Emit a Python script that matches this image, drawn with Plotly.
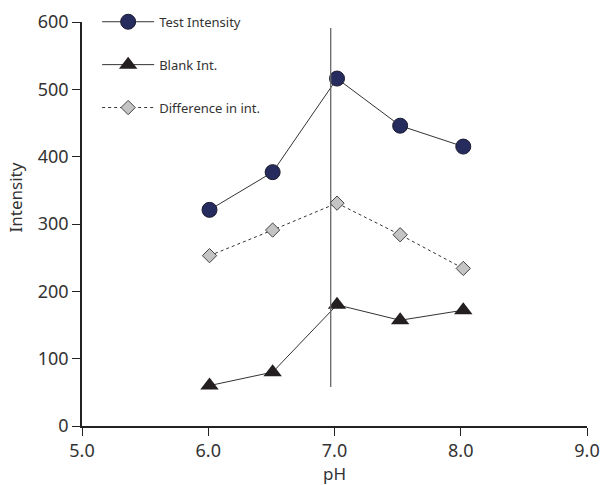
import plotly.graph_objects as go

ph = [6.01, 6.51, 7.02, 7.52, 8.02]
test_intensity = [321, 377, 516, 446, 415]
blank_int = [60, 80, 180, 157, 172]
difference = [253, 291, 331, 284, 234]

vline_x = 6.97
vline_y = [58, 591]

x_ticks = [5.0, 6.0, 7.0, 8.0, 9.0]
x_ticktext = ["5.0", "6.0", "7.0", "8.0", "9.0"]
y_ticks = [0, 100, 200, 300, 400, 500, 600]

FONT = "Noto Sans"
LINE = "#333333"

fig = go.Figure()
fig.add_trace(go.Scatter(
    x=ph, y=test_intensity, name="Test Intensity", mode="lines+markers",
    line=dict(color=LINE, width=1),
    marker=dict(symbol="circle", size=15, color="#262c5e", line=dict(color="#1a1a2e", width=1)),
    legendgroup="a"))
fig.add_trace(go.Scatter(
    x=ph, y=blank_int, name="Blank Int.", mode="lines+markers",
    line=dict(color=LINE, width=1),
    marker=dict(symbol="triangle-up", size=16, color="#231f20"),
    legendgroup="b"))
fig.add_trace(go.Scatter(
    x=ph, y=difference, name="Difference in int.", mode="lines+markers",
    line=dict(color=LINE, width=1, dash="dot"),
    marker=dict(symbol="diamond", size=11, color="#c4c4c4", line=dict(color="#444444", width=1)),
    legendgroup="c"))
fig.add_trace(go.Scatter(
    x=[vline_x, vline_x], y=vline_y, mode="lines", showlegend=False,
    line=dict(color="#666666", width=1.3), hoverinfo="skip"))

fig.update_layout(
    width=602, height=485,
    margin=dict(l=82, r=15, t=22, b=59, autoexpand=False),
    paper_bgcolor="white", plot_bgcolor="white",
    font=dict(family=FONT, color="#333333"),
    legend=dict(x=0.03, y=0.986, xanchor="left", yanchor="top", yref="container",
                traceorder="grouped", tracegroupgap=23,
                font=dict(family=FONT, size=13, color="#333333"),
                itemwidth=52, bgcolor="rgba(0,0,0,0)"),
    annotations=[dict(text="Intensity", x=-0.158, y=0.565, xref="paper", yref="paper",
                      textangle=-90, showarrow=False,
                      font=dict(family=FONT, size=17, color="#333333"))],
)
fig.update_xaxes(
    range=[5.0, 9.0], tickvals=x_ticks, ticktext=x_ticktext, automargin=False,
    showgrid=False, zeroline=False, showline=True, linecolor="#222222", linewidth=1.5,
    ticks="outside", ticklen=8, tickcolor="#222222",
    tickfont=dict(family=FONT, size=18, color="#333333"),
    title=dict(text="pH", font=dict(family=FONT, size=17, color="#333333"), standoff=6))
fig.update_yaxes(
    range=[0, 600], tickvals=y_ticks, automargin=False,
    showgrid=False, zeroline=False, showline=True, linecolor="#222222", linewidth=1.5,
    ticks="outside", ticklen=8, tickcolor="#222222",
    tickfont=dict(family=FONT, size=18, color="#333333"))

fig.write_html("out.html")
